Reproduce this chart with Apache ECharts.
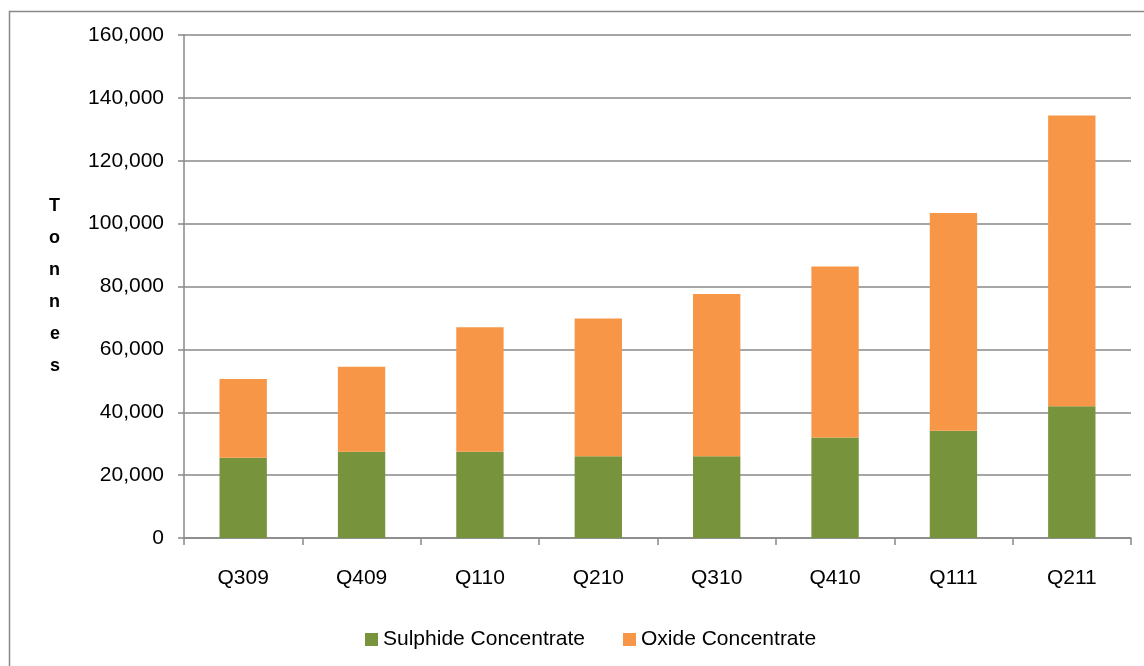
<!DOCTYPE html>
<html>
<head>
<meta charset="utf-8">
<script src="https://cdn.jsdelivr.net/npm/echarts@6/dist/echarts.min.js"></script>
<style>
html,body{margin:0;padding:0;background:#fff;}
#c{width:1144px;height:666px;}
</style>
</head>
<body>
<div id="c"></div>
<script>
const categories = ['Q309','Q409','Q110','Q210','Q310','Q410','Q111','Q211'];
const sulphide = [25500, 27400, 27400, 26000, 26000, 32000, 34100, 41900];
const oxideTotal = [50600, 54500, 67000, 69800, 77600, 86400, 103400, 134400];
const oxide = oxideTotal.map((t, i) => t - sulphide[i]);
const seriesNames = ['Sulphide Concentrate', 'Oxide Concentrate'];
const yTicks = { min: 0, max: 160000, interval: 20000 };

const chart = echarts.init(document.getElementById('c'), null, {renderer: 'canvas'});
const font = 'Liberation Sans';
chart.setOption({
  animation: false,
  backgroundColor: '#fff',
  graphic: [{
    type: 'rect', left: 7, top: 9, silent: true,
    shape: {width: 1160, height: 700},
    style: {fill: 'none', stroke: '#888', lineWidth: 1.5}
  }],
  grid: {left: 184, right: 13, top: 35, bottom: 128, containLabel: false},
  legend: {
    left: 360, top: 624, itemWidth: 13, itemHeight: 13, itemGap: 38,
    icon: 'rect',
    textStyle: {fontFamily: font, fontSize: 21, color: '#000', padding: [0,0,0,0]},
    data: seriesNames
  },
  xAxis: {
    type: 'category', data: categories,
    axisLine: {lineStyle: {color: '#888', width: 1.5}},
    axisTick: {show: true, length: 7, lineStyle: {color: '#888', width: 1.5}},
    axisLabel: {fontFamily: font, fontSize: 21, color: '#000', margin: 30}
  },
  yAxis: {
    type: 'value', min: yTicks.min, max: yTicks.max, interval: yTicks.interval,
    name: 'T\no\nn\nn\ne\ns', nameLocation: 'middle', nameRotate: 0, nameGap: 124,
    nameTextStyle: {fontFamily: font, fontSize: 18, fontWeight: 'bold', color: '#000', lineHeight: 32},
    axisLine: {show: true, lineStyle: {color: '#888', width: 1.5}},
    axisTick: {show: true, length: 6, lineStyle: {color: '#888', width: 1.5}},
    splitLine: {lineStyle: {color: '#888', width: 1.5}},
    axisLabel: {fontFamily: font, fontSize: 21, color: '#000', margin: 20,
      formatter: v => v.toLocaleString('en-US')}
  },
  series: [
    {name: seriesNames[0], type: 'bar', stack: 's', data: sulphide, barWidth: '40%',
     itemStyle: {color: '#77933C'}},
    {name: seriesNames[1], type: 'bar', stack: 's', data: oxide, barWidth: '40%',
     itemStyle: {color: '#F79646'}}
  ]
});
</script>
</body>
</html>
